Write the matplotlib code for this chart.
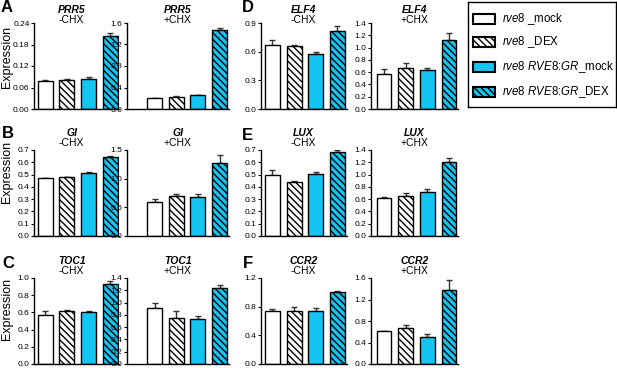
import numpy as np
import matplotlib
matplotlib.use('Agg')
import matplotlib.pyplot as plt
from matplotlib.patches import Rectangle
from matplotlib.ticker import FormatStrFormatter, MultipleLocator

plt.rcParams['font.family'] = 'Liberation Sans'
plt.rcParams['mathtext.fontset'] = 'custom'
plt.rcParams['mathtext.rm'] = 'Liberation Sans'
plt.rcParams['mathtext.it'] = 'Liberation Sans:italic'
plt.rcParams['hatch.linewidth'] = 1.0

# groups: rve8 mock, rve8 DEX, rve8 RVE8:GR mock, rve8 RVE8:GR DEX
prr5_minus = [0.079, 0.082, 0.085, 0.205]
prr5_minus_err = [0.001, 0.002, 0.005, 0.008]
prr5_plus = [0.20, 0.22, 0.255, 1.475]
prr5_plus_err = [0.004, 0.03, 0.01, 0.04]

elf4_minus = [0.673, 0.659, 0.579, 0.813]
elf4_minus_err = [0.053, 0.007, 0.018, 0.056]
elf4_plus = [0.575, 0.667, 0.629, 1.118]
elf4_plus_err = [0.082, 0.087, 0.038, 0.119]

gi_minus = [0.470, 0.478, 0.510, 0.645]
gi_minus_err = [0.006, 0.006, 0.007, 0.009]
gi_plus = [0.60, 0.70, 0.675, 1.28]
gi_plus_err = [0.04, 0.025, 0.065, 0.125]

lux_minus = [0.495, 0.440, 0.507, 0.684]
lux_minus_err = [0.04, 0.005, 0.012, 0.018]
lux_plus = [0.625, 0.655, 0.720, 1.197]
lux_plus_err = [0.005, 0.048, 0.043, 0.07]

toc1_minus = [0.575, 0.615, 0.600, 0.930]
toc1_minus_err = [0.038, 0.011, 0.012, 0.04]
toc1_plus = [0.905, 0.745, 0.730, 1.235]
toc1_plus_err = [0.08, 0.12, 0.055, 0.055]

ccr2_minus = [0.744, 0.744, 0.739, 1.005]
ccr2_minus_err = [0.025, 0.056, 0.047, 0.01]
ccr2_plus = [0.609, 0.671, 0.502, 1.368]
ccr2_plus_err = [0.005, 0.05, 0.05, 0.2]

W, H = 617, 368
CYAN = '#14c4f2'
face = ['white', 'white', CYAN, CYAN]
hatch = [None, '\\\\\\\\\\', None, '\\\\\\\\\\']

fig = plt.figure(figsize=(W / 100, H / 100), dpi=100)

# (gene, label, means, err, ymax, step, fmt, row, col)
panels = [
    ('PRR5', '-CHX', prr5_minus, prr5_minus_err, 0.24, 0.06, '%.2f', 0, 0),
    ('PRR5', '+CHX', prr5_plus, prr5_plus_err, 1.6, 0.4, '%.1f', 0, 1),
    ('ELF4', '-CHX', elf4_minus, elf4_minus_err, 0.9, 0.3, '%.1f', 0, 2),
    ('ELF4', '+CHX', elf4_plus, elf4_plus_err, 1.4, 0.2, '%.1f', 0, 3),
    ('GI', '-CHX', gi_minus, gi_minus_err, 0.7, 0.1, '%.1f', 1, 0),
    ('GI', '+CHX', gi_plus, gi_plus_err, 1.5, 0.5, '%.1f', 1, 1),
    ('LUX', '-CHX', lux_minus, lux_minus_err, 0.7, 0.1, '%.1f', 1, 2),
    ('LUX', '+CHX', lux_plus, lux_plus_err, 1.4, 0.2, '%.1f', 1, 3),
    ('TOC1', '-CHX', toc1_minus, toc1_minus_err, 1.0, 0.2, '%.1f', 2, 0),
    ('TOC1', '+CHX', toc1_plus, toc1_plus_err, 1.4, 0.2, '%.1f', 2, 1),
    ('CCR2', '-CHX', ccr2_minus, ccr2_minus_err, 1.2, 0.4, '%.1f', 2, 2),
    ('CCR2', '+CHX', ccr2_plus, ccr2_plus_err, 1.6, 0.4, '%.1f', 2, 3),
]

col_left = [34, 127, 260.5, 371]
col_xmin = [-0.52, -1.27, -0.55, -0.6]
col_title_shift = [-5, 0, 0, 0]
row_top = [23, 150, 278]
gene_off = [13, 17, 17]
chx_off = [3, 6.5, 6.5]
unit = 21.67
xmax = 3.42
ax_h = 86

for gene, lab, means, err, ymax, step, fmt, r, c in panels:
    w = (xmax - col_xmin[c]) * unit
    ax = fig.add_axes([col_left[c] / W, 1 - (row_top[r] + ax_h) / H, w / W, ax_h / H])
    x = np.arange(4)
    ax.bar(x, means, width=0.69, color=face, edgecolor='black', linewidth=1.0,
           hatch=hatch, zorder=2)
    ax.errorbar(x, means, yerr=[np.zeros(4), err], fmt='none', ecolor='#333333',
                elinewidth=1.0, capsize=2.5, capthick=1.0, zorder=1)
    ax.set_xlim(col_xmin[c], xmax)
    ax.set_ylim(0, ymax)
    ax.yaxis.set_major_locator(MultipleLocator(step))
    ax.yaxis.set_major_formatter(FormatStrFormatter(fmt))
    ax.tick_params(axis='y', length=2.2, width=0.8, labelsize=6, pad=1)
    ax.set_xticks([])
    for s in ['top', 'right']:
        ax.spines[s].set_visible(False)
    for s in ['left', 'bottom']:
        ax.spines[s].set_linewidth(1.0)
    cx = (col_left[c] + w / 2 + col_title_shift[c]) / W
    fig.text(cx, 1 - (row_top[r] - gene_off[r]) / H, gene, ha='center', va='center',
             fontsize=7.5, fontweight='bold', style='italic')
    fig.text(cx, 1 - (row_top[r] - chx_off[r]) / H, lab, ha='center', va='center',
             fontsize=7.5)

# panel letters
for letter, px, py in [('A', 1, 8), ('D', 242, 8), ('B', 2, 134), ('E', 242, 135),
                       ('C', 2, 264), ('F', 243, 264)]:
    fig.text(px / W, 1 - py / H, letter, ha='left', va='center', fontsize=12,
             fontweight='bold')

for py in [57, 172, 309]:
    fig.text(7.5 / W, 1 - py / H, 'Expression', rotation=90, ha='center', va='center',
             fontsize=9)

# legend box
lx0, ly0, lx1, ly1 = 468, 2, 616, 107
lax = fig.add_axes([lx0 / W, 1 - ly1 / H, (lx1 - lx0) / W, (ly1 - ly0) / H])
lax.set_xlim(0, lx1 - lx0)
lax.set_ylim(ly1 - ly0, 0)
lax.set_xticks([])
lax.set_yticks([])
for s in lax.spines.values():
    s.set_linewidth(1.0)
labels = [r'$\mathit{rve8}$ _mock', r'$\mathit{rve8}$ _DEX',
          r'$\mathit{rve8\ RVE8}$:$\mathit{GR}$_mock', r'$\mathit{rve8\ RVE8}$:$\mathit{GR}$_DEX']
for i, yc in enumerate([17, 40, 65, 90]):
    lax.add_patch(Rectangle((5, yc - 5), 22, 10, facecolor=face[i], edgecolor='black',
                            linewidth=1.5, hatch=hatch[i]))
    lax.text(34, yc, labels[i], ha='left', va='center', fontsize=8.3)

fig.savefig('out.png', dpi=100)
